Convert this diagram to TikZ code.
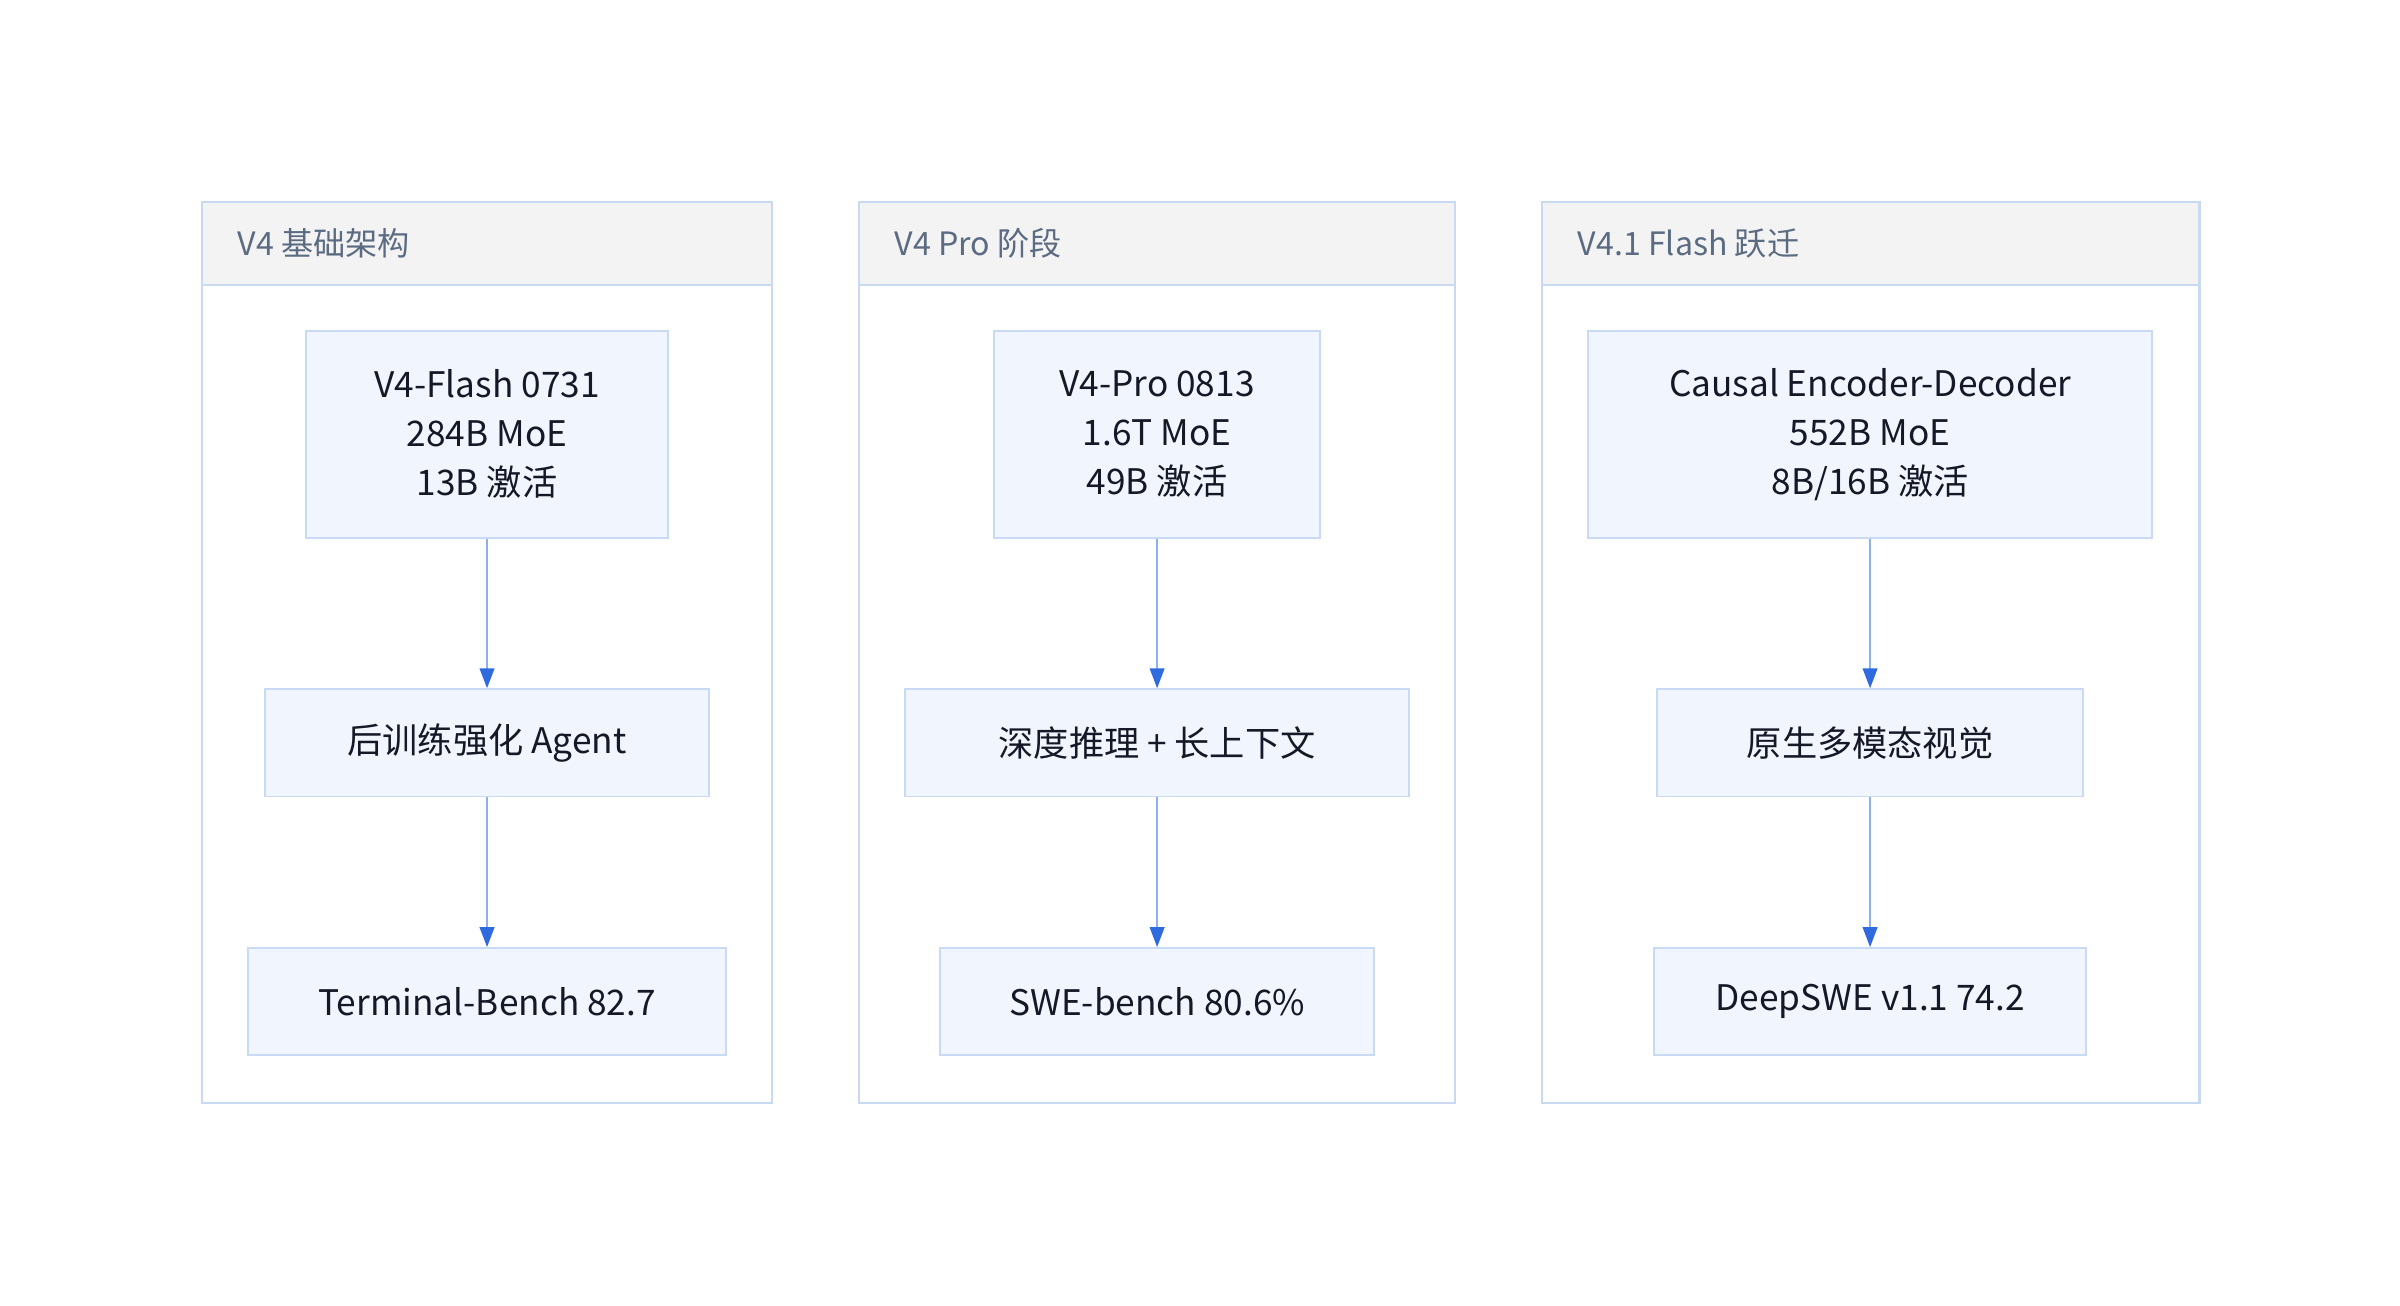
\documentclass[tikz,border=0pt]{standalone}
\usepackage{fontspec}
\setmainfont{Noto Sans CJK SC}
\usetikzlibrary{arrows.meta}

\begin{document}
\begin{tikzpicture}[x = 1pt, y = -1pt,
  panel/.style = {draw = panelLine, line width = 1.5pt, fill = white},
  header/.style = {draw = panelLine, line width = 1.5pt, fill = headGray},
  title/.style = {anchor = west, text = titleGray, inner sep = 0pt, font = \fontsize{21}{26}\selectfont},
  box/.style = {draw = boxLine, line width = 1.2pt, fill = boxFill, text = inkDark, align = center, inner sep = 0pt, font = \fontsize{23}{32}\selectfont},
  flow/.style = {draw = flowLine, line width = 1.4pt, -{Triangle[length = 13pt, width = 9.5pt, color = flowHead]}}]
  \definecolor{panelLine}{HTML}{C9D9F2};
  \definecolor{headGray}{HTML}{F3F3F3};
  \definecolor{titleGray}{HTML}{5B6B82};
  \definecolor{boxLine}{HTML}{C9DAF5};
  \definecolor{boxFill}{HTML}{F1F6FE};
  \definecolor{inkDark}{HTML}{161828};
  \definecolor{flowLine}{HTML}{8DB0EE};
  \definecolor{flowHead}{HTML}{2F6BDE};

  \useasboundingbox (0, 0) rectangle (1567, 852.7);

  % panels
  \filldraw[panel] (132, 132) rectangle (504, 720);
  \filldraw[header] (132, 132) rectangle (504, 186);
  \node[title] (t1) at (155, 159) {V4 基础架构};

  \filldraw[panel] (561, 132) rectangle (950, 720);
  \filldraw[header] (561, 132) rectangle (950, 186);
  \node[title] (t2) at (584, 159) {V4 Pro 阶段};

  \filldraw[panel] (1007, 132) rectangle (1436, 720);
  \filldraw[header] (1007, 132) rectangle (1436, 186);
  \node[title] (t3) at (1030, 159) {V4.1 Flash 跃迁};

  % V4
  \node[box, minimum width = 236pt, minimum height = 135pt] (flash) at (318, 283.5) {V4-Flash 0731\\284B MoE\\13B 激活};
  \node[box, minimum width = 290pt, minimum height = 70pt] (agent) at (318, 485) {后训练强化 Agent};
  \node[box, minimum width = 312pt, minimum height = 70pt] (term) at (318, 654) {Terminal-Bench 82.7};

  % V4 Pro
  \node[box, minimum width = 213pt, minimum height = 135pt] (pro) at (755.5, 283.5) {V4-Pro 0813\\1.6T MoE\\49B 激活};
  \node[box, minimum width = 329pt, minimum height = 70pt] (reason) at (755.5, 485) {深度推理 + 长上下文};
  \node[box, minimum width = 283pt, minimum height = 70pt] (swe) at (755.5, 654) {SWE-bench 80.6\%};

  % V4.1 Flash
  \node[box, minimum width = 368pt, minimum height = 135pt] (causal) at (1221, 283.5) {Causal Encoder-Decoder\\552B MoE\\8B/16B 激活};
  \node[box, minimum width = 278pt, minimum height = 70pt] (vision) at (1221, 485) {原生多模态视觉};
  \node[box, minimum width = 282pt, minimum height = 70pt] (deep) at (1221, 654) {DeepSWE v1.1 74.2};

  \draw[flow] (flash) -- (agent);
  \draw[flow] (agent) -- (term);
  \draw[flow] (pro) -- (reason);
  \draw[flow] (reason) -- (swe);
  \draw[flow] (causal) -- (vision);
  \draw[flow] (vision) -- (deep);
\end{tikzpicture}
\end{document}
